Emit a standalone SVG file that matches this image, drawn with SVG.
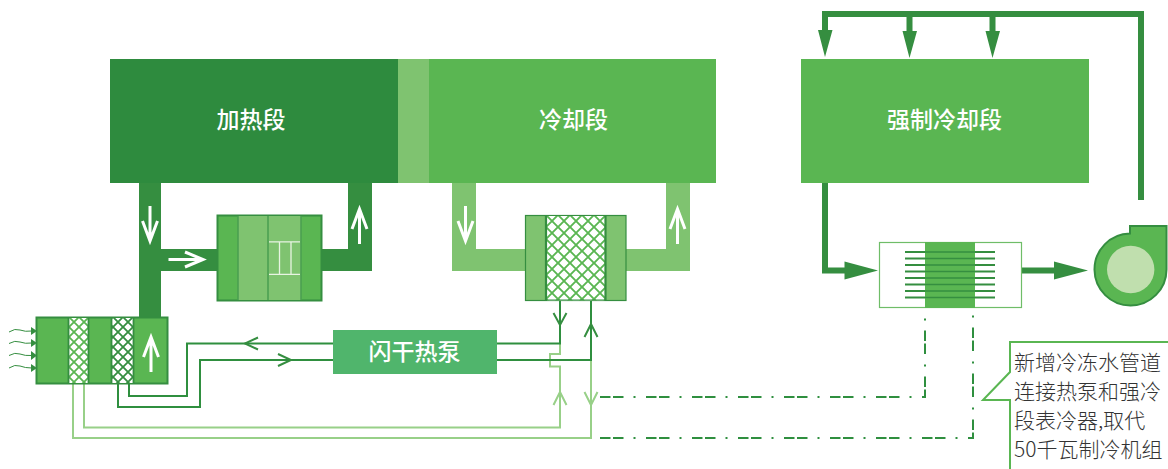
<svg xmlns="http://www.w3.org/2000/svg" width="1168" height="469" viewBox="0 0 1168 469">
<style>
text{font-family:"Noto Sans CJK SC","Noto Sans",sans-serif}
.t{fill:#fff;font-size:23px;font-weight:500;text-anchor:middle}
.n{fill:#333;font-size:21px;font-weight:300}
.d1{fill:#358e40}.d2{fill:#7fc370}
.wa{fill:none;stroke:#fff;stroke-width:3}
.dk{fill:none;stroke:#2f8f3f;stroke-width:2}
.lt{fill:none;stroke:#98d088;stroke-width:2}
.ha{fill:none;stroke-width:2}
.dd{fill:none;stroke:#2f8f3f;stroke-width:2;stroke-dasharray:10.5 2.5 10.5 10 2 10.5}
.thick{fill:none;stroke:#358e40;stroke-width:6}
.tip{fill:#358e40}
.wave{fill:none;stroke:#358e40;stroke-width:1}
</style>
<defs>
<pattern id="hL" width="10" height="10" patternUnits="userSpaceOnUse" x="69" y="317"><path d="M-1 -1L11 11M-1 11L11 -1" stroke="#5ab652" stroke-width="1.800" fill="none"/></pattern>
<pattern id="hD" width="10" height="10" patternUnits="userSpaceOnUse" x="113" y="317"><path d="M-1 -1L11 11M-1 11L11 -1" stroke="#358e40" stroke-width="1.800" fill="none"/></pattern>
<pattern id="hB" width="12" height="12" patternUnits="userSpaceOnUse" x="546" y="215"><path d="M-1 -1L13 13M-1 13L13 -1" stroke="#5ab652" stroke-width="1.900" fill="none"/></pattern>
</defs>

<g id="connectors">
<rect class="d1" x="139" y="183" width="22" height="134"/>
<rect class="d1" x="161" y="249" width="57" height="22"/>
<path class="d1" d="M348 183H372V271H321V249H348Z"/>
<path class="d2" d="M452 183H476V249H526V271H452Z"/>
<path class="d2" d="M666 183H690V271H626V249H666Z"/>
<path class="wa" d="M150 206V241M142.500 221L150 241L157.500 221"/>
<path class="wa" d="M168.500 259.500H203M185 252L203 259.500L185 267"/>
<path class="wa" d="M359.500 244V209M352 229L359.500 209L367 229"/>
<path class="wa" d="M465.500 206V241M458 221L465.500 241L473 221"/>
<path class="wa" d="M677.500 244V209M670 229L677.500 209L685 229"/>

<path class="lt" d="M84 384V427.500H560V366.500H550V354H560V343"/>
<path class="lt" d="M73 384V438H591V360"/>
<path class="dk" d="M129 384V396H187V343.500H333"/>
<path class="dk" d="M118 384V407H200V360H333"/>
<path class="dk" d="M497 343.500H560V301"/>
<path class="dk" d="M497 360H591V301"/>
<path class="ha" stroke="#358e40" d="M258 337.500L245 343.500L258 349.500"/>
<path class="ha" stroke="#358e40" d="M278 354L291 360L278 366"/>
<path class="ha" stroke="#358e40" d="M553.500 313L560 325L566.500 313"/>
<path class="ha" stroke="#358e40" d="M584.500 337L591 324L597.500 337"/>
<path class="ha" stroke="#98d088" d="M553.500 405L560 392L566.500 405"/>
<path class="ha" stroke="#98d088" d="M584.500 392L591 405L597.500 392"/>
<path class="dd" d="M600 397H925V317"/>
<path class="dd" d="M600 438H973V314"/>

<path class="thick" d="M1141 200V14H825V32"/>
<path class="thick" d="M909.500 14V32M992.500 14V32"/>
<path class="tip" d="M818 30H832.500L825 57ZM902.500 31H917L909.500 58ZM985.500 31H1000L992.500 58Z"/>
<path class="thick" d="M825 183V270.500H846"/>
<path class="tip" d="M844.500 261.500L878 270.500L844.500 279.500Z"/>
<path class="thick" d="M1022 270.500H1056"/>
<path class="tip" d="M1054 261.500L1088 270.500L1054 279.500Z"/>
</g>

<g id="heating"><rect x="110" y="59" width="288" height="124" fill="#2e8b3e"/><text class="t" x="251" y="128">加热段</text></g>
<g id="mid"><rect x="398" y="59" width="31" height="124" fill="#7fc370"/></g>
<g id="cooling"><rect x="429" y="59" width="287" height="124" fill="#5ab652"/><text class="t" x="573.500" y="128">冷却段</text></g>
<g id="forced-cooling"><rect x="801" y="59" width="288" height="124" fill="#5ab652"/><text class="t" x="944.500" y="128">强制冷却段</text></g>

<g id="unit-heat">
<rect x="217.500" y="215.500" width="104" height="85" fill="#5ab652" stroke="#358e40" stroke-width="2"/>
<rect x="238" y="216" width="63" height="84" fill="#7fc370"/>
<path d="M238 216V300M268 216V300M301 216V300" stroke="#4a9e50" stroke-width="1.500" fill="none"/>
<path d="M269 241.800H300M269 274.300H300M279.500 241.800V274.300M291 241.800V274.300" stroke="#e8f4e2" stroke-width="1.300" fill="none"/>
</g>

<g id="unit-intake">
<rect x="36.500" y="317.500" width="131" height="66" fill="#5ab652" stroke="#358e40" stroke-width="2"/>
<rect x="69" y="318" width="19" height="65" fill="#fff"/><rect x="69" y="318" width="19" height="65" fill="url(#hL)"/>
<rect x="112" y="318" width="22" height="65" fill="#fff"/><rect x="112" y="318" width="22" height="65" fill="url(#hD)"/>
<path d="M68.500 317V384M88.500 317V384M111.500 317V384M133.500 317V384" stroke="#358e40" stroke-width="1.800" fill="none"/>
<path class="wa" d="M151 372V337M143.500 357L151 337L158.500 357"/>
<path class="wave" d="M9 332Q15 328 20 330T32 331M9 343.500Q15 340 20 342T32 343M9 355.500Q15 352 20 354T32 355.500M9 368Q15 364 20 366T32 368"/>
<path class="tip" d="M31 327L37 331L31 335ZM31 339L37 343L31 347ZM31 351L37 355.500L31 360ZM31 364L37 368L31 372Z"/>
</g>

<g id="unit-cool">
<rect x="525.500" y="215.500" width="100.500" height="85" fill="#7fc370" stroke="#358e40" stroke-width="1.200"/>
<rect x="546" y="215.500" width="60" height="85" fill="#fff"/><rect x="546" y="215.500" width="60" height="85" fill="url(#hB)"/>
<path d="M546 215V301M605.500 215V301" stroke="#358e40" stroke-width="2.200" fill="none"/>
<path d="M546 215.500H606M546 300H606" stroke="#358e40" stroke-width="1" fill="none"/>
</g>

<g id="heat-pump"><rect x="333" y="330" width="164" height="44" fill="#50b56c"/><text class="t" x="414.500" y="360">闪干热泵</text></g>

<g id="coil">
<rect x="879.500" y="242.500" width="142" height="65" fill="#fff" stroke="#6fbd68" stroke-width="1.200"/>
<path d="M905 252H995M905 258.500H995M905 265H995M905 271.500H995M905 278H995M905 284.500H995M905 291H995M905 297.500H995" stroke="#358e40" stroke-width="2" fill="none"/>
<rect x="925" y="242" width="50" height="66" fill="#5ab652"/>
<path d="M925 252H975M925 258.500H975M925 265H975M925 271.500H975M925 278H975M925 284.500H975M925 291H975M925 297.500H975" stroke="#358e40" stroke-width="1.500" fill="none"/>
</g>

<g id="fan">
<path d="M1130 233.500V226H1166.500V269.500A36 36 0 1 1 1130 233.500Z" fill="#5ab652" stroke="#358e40" stroke-width="2"/>
<circle cx="1130.700" cy="269.500" r="23.700" fill="#c0dfae"/>
</g>

<g id="callout">
<path d="M1168 342H1010V372L983 400H1010V469" fill="none" stroke="#5ab652" stroke-width="2"/>
<text class="n" x="1014" y="370">新增冷冻水管道</text>
<text class="n" x="1014" y="399">连接热泵和强冷</text>
<text class="n" x="1014" y="428">段表冷器,取代</text>
<text class="n" x="1014" y="457">50千瓦制冷机组</text>
</g>
</svg>
